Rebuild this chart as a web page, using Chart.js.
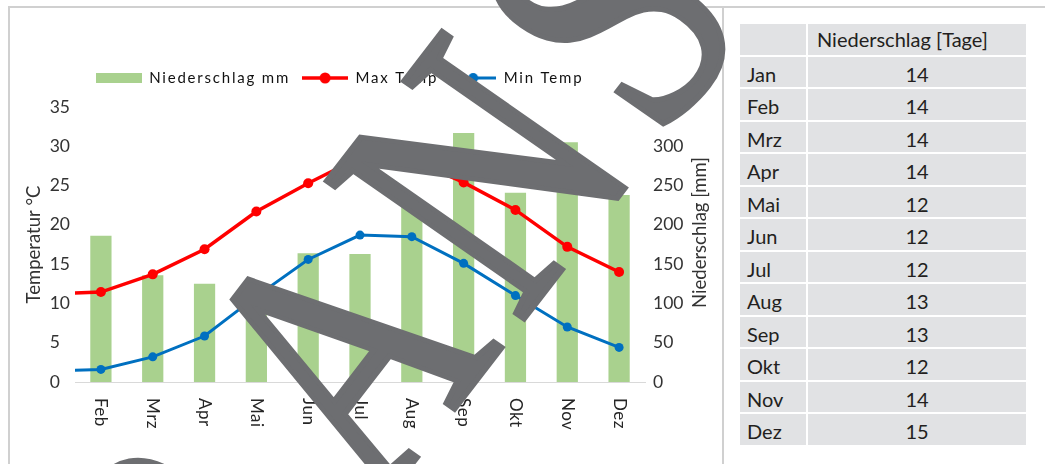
<!DOCTYPE html>
<html lang="de">
<head>
<meta charset="UTF-8">
<title>Niederschlag und Temperatur</title>
<script src="https://cdn.jsdelivr.net/npm/chart.js"></script>
<style>
  body { margin: 0; width: 1045px; height: 464px; overflow: hidden; background: #fff; position: relative; font-family: Lato, sans-serif; }
  .frame { position: absolute; left: 8px; top: 6px; width: 1100px; height: 500px; border-top: 2px solid #d0d0d0; border-left: 2px solid #d0d0d0; }
  .divider { position: absolute; left: 722px; top: 6px; width: 2px; height: 470px; background: #d0d0d0; }
  #chart { position: absolute; left: -44px; top: 0; }
  table.days { position: absolute; left: 738px; top: 22px; width: 290px; border-collapse: separate; border-spacing: 2px; background: #fff; font-size: 20px; color: #231f20; }
  table.days td, table.days th { background: #e1e2e4; height: 30.5px; box-sizing: border-box; padding: 5px 0 0 7px; line-height: 25.5px; vertical-align: top; font-weight: normal; }
  table.days td:first-child, table.days th:first-child { width: 66px; text-align: left; }
  table.days td + td { text-align: center; padding-left: 0; }
  table.days th + th { text-align: left; padding: 3px 0 0 9px; }
  svg.stamp { position: absolute; left: 0; top: 0; pointer-events: none; }
</style>
</head>
<body>
<div class="frame"></div>
<div class="divider"></div>
<canvas id="chart" width="767" height="464"></canvas>
<table class="days" id="days">
  <tr><th></th><th>Niederschlag [Tage]</th></tr>
</table>

<!-- watermark over everything -->
<svg class="stamp" width="1045" height="464">
  <g transform="matrix(0.471 -0.610 0.820 0.572 518.7 325.4)" font-family="Liberation Serif, serif" font-size="367"
     fill="#6d6e71" stroke="#6d6e71" stroke-width="6" stroke-linejoin="miter">
    <text x="-33" y="0" text-anchor="end">ZUR A</text>
    <text x="0" y="0" letter-spacing="32">NSICHT</text>
  </g>
</svg>

<script>
const months = ['Jan', 'Feb', 'Mrz', 'Apr', 'Mai', 'Jun', 'Jul', 'Aug', 'Sep', 'Okt', 'Nov', 'Dez'];
const precipMm = [190, 186, 136, 125, 115, 164, 163, 225, 317, 241, 305, 238];
const maxTemp = [11.2, 11.45, 13.7, 16.9, 21.7, 25.3, 28.6, 28.3, 25.4, 21.9, 17.2, 14.0];
const minTemp = [1.4, 1.6, 3.2, 5.85, 10.9, 15.6, 18.7, 18.5, 15.1, 11.0, 7.0, 4.4];
const rainDays = [14, 14, 14, 14, 12, 12, 12, 13, 13, 12, 14, 15];

const tempTicks = { min: 0, max: 35, step: 5 };
const precipTicks = { min: 0, max: 350, step: 50 };

// table on the right
const table = document.getElementById('days');
months.forEach((m, i) => {
  const tr = document.createElement('tr');
  tr.innerHTML = '<td>' + m + '</td><td>' + rainDays[i] + '</td>';
  table.appendChild(tr);
});

Chart.defaults.font.family = "Lato, 'Open Sans', sans-serif";

// legend icons: green patch, line with dot
function barIcon(color) {
  const c = document.createElement('canvas');
  c.width = 46; c.height = 10;
  const g = c.getContext('2d');
  g.fillStyle = color;
  g.fillRect(0, 0, 46, 10);
  return c;
}
function lineIcon(color, width, r) {
  const c = document.createElement('canvas');
  c.width = 46; c.height = 14;
  const g = c.getContext('2d');
  g.strokeStyle = color;
  g.lineWidth = width;
  g.beginPath(); g.moveTo(0, 7); g.lineTo(46, 7); g.stroke();
  g.fillStyle = color;
  g.beginPath(); g.arc(23, 7, r, 0, Math.PI * 2); g.fill();
  return c;
}
const legendIcons = [barIcon('#a9d18e'), lineIcon('#ff0000', 3.5, 5.5), lineIcon('#0070c0', 3, 5)];

const LEGEND_TOP = 58.5;
const PLOT_TOP = 107;

// Excel style spaced legend text, fixed legend height
const legendSpacing = {
  id: 'legendSpacing',
  beforeLayout(chart) {
    const legend = chart.legend;
    if (!legend || legend._patched) return;
    legend._patched = true;
    const fit = legend.fit.bind(legend);
    const draw = legend.draw.bind(legend);
    legend.fit = function () {
      chart.ctx.letterSpacing = '1.8px';
      fit();
      chart.ctx.letterSpacing = '0px';
      this.height = PLOT_TOP - LEGEND_TOP;
    };
    legend.draw = function () {
      chart.ctx.letterSpacing = '1.8px';
      draw();
      chart.ctx.letterSpacing = '0px';
    };
  }
};

// month labels read top-to-bottom, right title reads bottom-to-top
const axisText = {
  id: 'axisText',
  afterDraw(chart) {
    const ctx = chart.ctx;
    const x = chart.scales.x;
    ctx.save();
    ctx.font = "17px Lato, sans-serif";
    ctx.fillStyle = '#262626';
    ctx.letterSpacing = '0.5px';
    ctx.textAlign = 'left';
    ctx.textBaseline = 'middle';
    x.ticks.forEach((t, i) => {
      ctx.save();
      ctx.translate(x.getPixelForTick(i), x.top + 16);
      ctx.rotate(Math.PI / 2);
      ctx.fillText(x.getLabelForValue(t.value), 0, 0);
      ctx.restore();
    });

    const y1 = chart.scales.y1;
    ctx.letterSpacing = '0px';
    ctx.font = "18.5px Lato, sans-serif";
    ctx.fillStyle = '#333';
    ctx.textAlign = 'center';
    ctx.translate(y1.right - 22.5, (y1.top + y1.bottom) / 2 - 12);
    ctx.rotate(-Math.PI / 2);
    ctx.fillText('Niederschlag [mm]', 0, 0);
    ctx.restore();
  }
};

new Chart(document.getElementById('chart'), {
  data: {
    labels: months,
    datasets: [
      {
        type: 'bar',
        label: 'Niederschlag mm',
        data: precipMm,
        yAxisID: 'y1',
        backgroundColor: '#a9d18e',
        barPercentage: 0.41,
        categoryPercentage: 1,
        order: 2
      },
      {
        type: 'line',
        label: 'Max Temp',
        data: maxTemp,
        yAxisID: 'y',
        borderColor: '#ff0000',
        backgroundColor: '#ff0000',
        borderWidth: 3.5,
        pointRadius: 5,
        pointBorderWidth: 0,
        tension: 0,
        order: 0
      },
      {
        type: 'line',
        label: 'Min Temp',
        data: minTemp,
        yAxisID: 'y',
        borderColor: '#0070c0',
        backgroundColor: '#0070c0',
        borderWidth: 3,
        pointRadius: 4.5,
        pointBorderWidth: 0,
        tension: 0,
        order: 1
      }
    ]
  },
  options: {
    responsive: false,
    animation: false,
    events: [],
    layout: { padding: { top: LEGEND_TOP, left: 0, right: 0, bottom: 0 } },
    plugins: {
      tooltip: { enabled: false },
      legend: {
        position: 'top',
        labels: {
          usePointStyle: true,
          pointStyleWidth: 46,
          padding: 12,
          color: '#111',
          font: { size: 15 },
          sort: (a, b) => a.datasetIndex - b.datasetIndex,
          generateLabels(chart) {
            return Chart.defaults.plugins.legend.labels.generateLabels(chart).map(item => {
              item.pointStyle = legendIcons[item.datasetIndex];
              return item;
            });
          }
        }
      }
    },
    scales: {
      x: {
        type: 'category',
        min: 'Feb',
        offset: true,
        grid: { display: false, drawTicks: false },
        border: { color: '#d9d9d9', width: 1 },
        ticks: { display: false },
        afterFit(s) { s.height = 82; }
      },
      y: {
        position: 'left',
        min: tempTicks.min,
        max: tempTicks.max,
        grid: { display: false, drawTicks: false },
        border: { display: false },
        ticks: {
          stepSize: tempTicks.step,
          padding: 5,
          color: '#333',
          font: { size: 17.5 },
          callback: v => v < 10 ? v + '\u2007' : String(v)
        },
        title: {
          display: true,
          text: 'Temperatur °C',
          color: '#333',
          font: { size: 18.5 },
          padding: { top: 67.4, bottom: 0 }
        },
        afterFit(s) { s.width = 119; }
      },
      y1: {
        position: 'right',
        min: precipTicks.min,
        max: precipTicks.max,
        grid: { display: false, drawTicks: false },
        border: { display: false },
        ticks: {
          stepSize: precipTicks.step,
          padding: 8,
          color: '#333',
          font: { size: 17.5 }
        },
        afterFit(s) { s.width = 78; }
      }
    }
  },
  plugins: [legendSpacing, axisText]
});
</script>
</body>
</html>
